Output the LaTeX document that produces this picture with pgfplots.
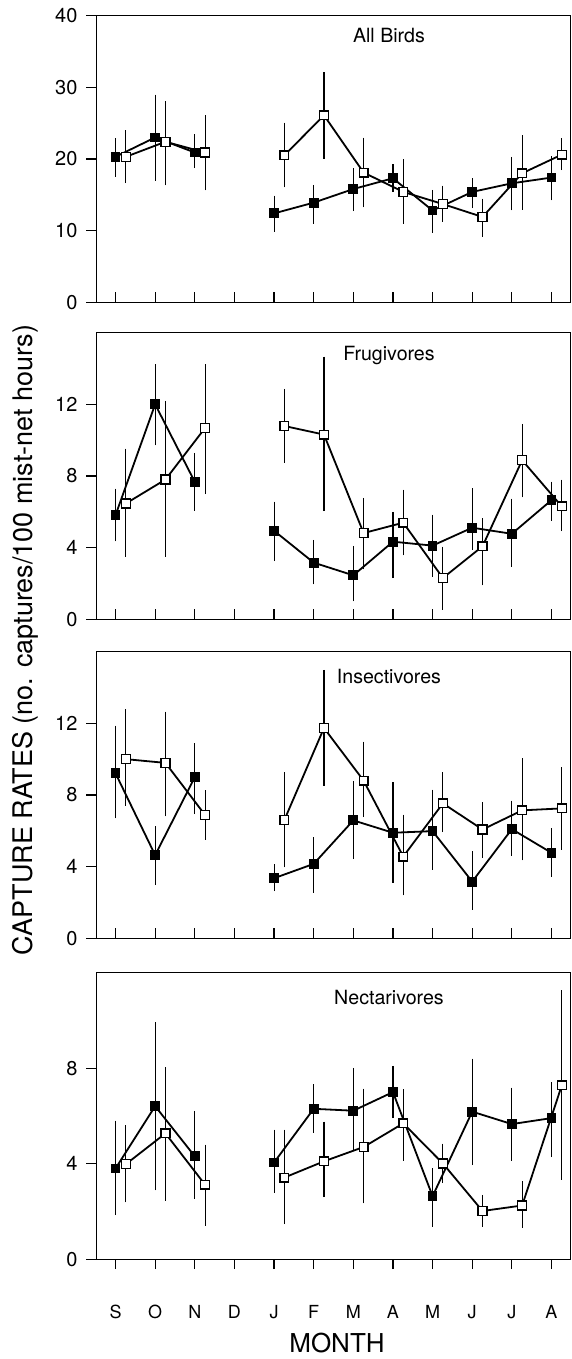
\documentclass[border=0pt]{standalone}
\usepackage{pgfplots}
\usepackage{pgfplotstable}
\pgfplotsset{compat=1.18}
\usepackage{fontspec}
\setmainfont{TeX Gyre Heros}

% columns: x y hi lo   (hi/lo = ends of the error bar)
\pgfplotstableread{
x y hi lo
0 20.3 22.4 18.0
1 23.0 28.5 17.4
2 20.9 23.0 19.2
3 nan nan nan
4 12.4 14.4 10.3
5 13.9 15.9 11.4
6 15.8 18.2 13.2
7 17.3 18.8 15.9
8 12.8 15.2 10.2
9 15.4 16.8 13.6
10 16.6 19.8 13.3
11 17.4 19.9 14.7
}\allF
\pgfplotstableread{
x y hi lo
0.26 20.3 23.5 17.1
1.26 22.4 27.6 16.8
2.26 20.9 25.6 16.1
3.26 nan nan nan
4.26 20.5 24.6 16.5
5.26 26.1 31.6 20.5
6.26 18.1 22.5 13.7
7.26 15.4 19.5 11.4
8.26 13.7 15.8 11.7
9.26 11.9 14.0 9.6
10.26 18.0 22.8 13.4
11.26 20.6 22.4 18.9
}\allO
\pgfplotstableread{
x y hi lo
0 5.81 7.10 4.53
1 12.0 14.04 9.90
2 7.67 9.10 6.26
3 nan nan nan
4 4.94 6.37 3.44
5 3.16 4.24 2.14
6 2.45 3.90 1.19
7 4.33 5.80 2.49
8 4.11 5.65 2.56
9 5.11 7.13 4.07
10 4.77 6.54 3.12
11 6.65 7.49 5.68
}\fruF
\pgfplotstableread{
x y hi lo
0.26 6.46 9.33 3.68
1.26 7.80 12.0 3.68
2.26 10.68 14.04 7.17
3.26 nan nan nan
4.26 10.79 12.67 8.94
5.26 10.31 14.47 6.22
6.26 4.81 6.58 2.97
7.26 5.39 7.04 3.75
8.26 2.30 3.86 0.72
9.26 4.07 5.46 2.08
10.26 8.88 10.72 7.00
11.26 6.30 7.60 5.11
}\fruO
\pgfplotstableread{
x y hi lo
0 9.21 11.68 6.88
1 4.64 6.07 3.16
2 8.99 10.71 7.12
3 nan nan nan
4 3.35 3.94 2.82
5 4.15 5.44 2.73
6 6.58 8.60 4.60
7 5.89 8.52 3.29
8 5.98 8.11 4.00
9 3.16 4.67 1.79
10 6.09 7.50 4.79
11 4.77 5.96 3.61
}\insF
\pgfplotstableread{
x y hi lo
0.26 10.0 12.6 7.59
1.26 9.79 12.47 6.99
2.26 6.88 8.06 5.70
3.26 nan nan nan
4.26 6.60 9.08 4.15
5.26 11.74 14.8 8.71
6.26 8.80 10.79 6.95
7.26 4.56 6.71 2.58
8.26 7.53 9.07 6.11
9.26 6.07 7.40 4.67
10.26 7.14 9.85 4.54
11.26 7.25 9.35 5.12
}\insO
\pgfplotstableread{
x y hi lo
0 3.80 5.66 1.99
1 6.41 9.79 3.03
2 4.31 6.07 2.67
3 nan nan nan
4 4.05 5.29 2.92
5 6.30 7.18 5.43
6 6.22 7.87 4.67
7 7.00 7.96 6.05
8 2.64 3.66 1.50
9 6.18 8.26 4.08
10 5.66 7.04 4.26
11 5.91 7.28 4.42
}\necF
\pgfplotstableread{
x y hi lo
0.26 3.98 5.47 2.52
1.26 5.27 7.90 2.60
2.26 3.12 4.66 1.54
3.26 nan nan nan
4.26 3.42 5.29 1.61
5.26 4.10 5.62 2.74
6.26 4.70 7.00 2.48
7.26 5.69 6.97 4.27
8.26 4.01 4.70 3.33
9.26 2.02 2.55 1.50
10.26 2.25 3.13 1.47
11.26 7.28 11.13 3.48
}\necO

\pgfplotsset{
  panel/.style={
    scale only axis, width=237pt, height=143.25pt,
    anchor=north west,
    xmin=-0.48, xmax=11.48, ymin=0,
    xtick={0,...,11}, xticklabels={},
    xtick pos=bottom, ytick pos=left,
    xtick align=inside, ytick align=outside,
    major tick length=5pt,
    tick style={black, line width=0.6pt},
    axis line style={black, line width=0.6pt},
    unbounded coords=jump,
    /pgf/number format/assume math mode=true,
    yticklabel style={font=\fontsize{10}{12}\selectfont, xshift=-1pt},
    clip=false,
  },
  filled/.style={black, line width=0.9pt, mark=square*, mark size=2.2pt,
    mark options={solid, fill=black, draw=black, line width=0.5pt},
    error bars/.cd, y dir=both, y explicit,
    error bar style={line width=0.55pt, black},
    error mark options={black, mark size=1.7pt, line width=0.55pt}},
  open/.style={black, line width=0.9pt, mark=square*, mark size=2.2pt,
    mark options={solid, fill=white, draw=black, line width=0.65pt},
    error bars/.cd, y dir=both, y explicit,
    error bar style={line width=0.55pt, black},
    error mark options={black, mark size=1.7pt, line width=0.55pt}},
}
\tikzset{ttl/.style={font=\fontsize{9.8}{11}\selectfont}}
\newcommand{\series}[2]{%
  \addplot[#1] table[x=x, y=y,
    y error plus expr=\thisrow{hi}-\thisrow{y},
    y error minus expr=\thisrow{y}-\thisrow{lo}] {#2};}

\begin{document}
\begin{tikzpicture}
\path[use as bounding box] (0,0) rectangle (286pt,-679.5pt);

\begin{axis}[panel, at={(48.25pt,-7.85pt)}, ymax=40, ytick={0,10,20,30,40}]
\series{filled}{\allF}
\series{open}{\allO}
\node[ttl] at (axis description cs:0.617,0.93) {All Birds};
\end{axis}

\begin{axis}[panel, at={(48.25pt,-166.35pt)}, ymax=16, ytick={0,4,8,12}]
\series{filled}{\fruF}
\series{open}{\fruO}
\node[ttl] at (axis description cs:0.617,0.92) {Frugivores};
\end{axis}

\begin{axis}[panel, at={(48.25pt,-325.85pt)}, ymax=16, ytick={0,4,8,12}]
\series{filled}{\insF}
\series{open}{\insO}
\node[ttl] at (axis description cs:0.617,0.913) {Insectivores};
\end{axis}

\begin{axis}[panel, at={(48.25pt,-486.35pt)}, ymax=12, ytick={0,4,8},
  xtick align=outside,
  xticklabels={S,O,N,D,J,F,M,A,M,J,J,A},
  xticklabel style={font=\fontsize{9}{11}\selectfont, anchor=base, yshift=-24.4pt}]
\series{filled}{\necF}
\series{open}{\necO}
\node[ttl] at (axis description cs:0.617,0.913) {Nectarivores};
\end{axis}

\node[rotate=90, font=\fontsize{13.5}{15}\selectfont] at (12.5pt,-320pt)
  {CAPTURE RATES (no. captures/100 mist-net hours)};
\node[font=\fontsize{13}{15}\selectfont] at (168.5pt,-671.3pt) {MONTH};
\end{tikzpicture}
\end{document}
